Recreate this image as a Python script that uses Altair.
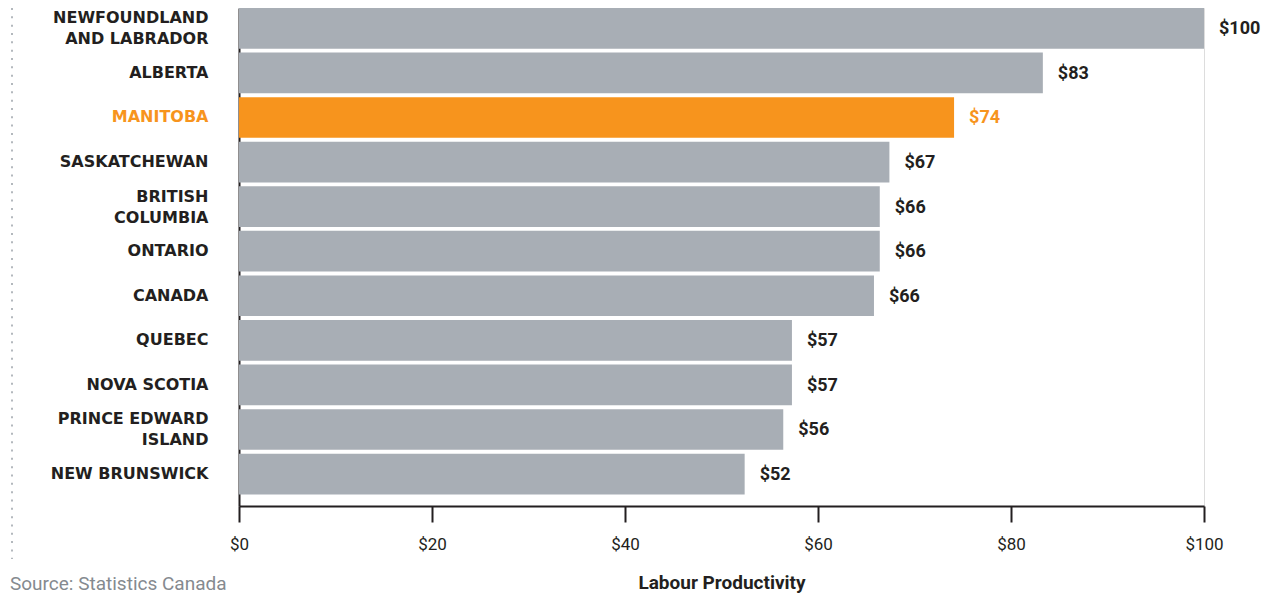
import altair as alt
import pandas as pd

regions = [
    "NEWFOUNDLAND\nAND LABRADOR",
    "ALBERTA",
    "MANITOBA",
    "SASKATCHEWAN",
    "BRITISH\nCOLUMBIA",
    "ONTARIO",
    "CANADA",
    "QUEBEC",
    "NOVA SCOTIA",
    "PRINCE EDWARD\nISLAND",
    "NEW BRUNSWICK",
]
productivity = [100.0, 83.3, 74.1, 67.4, 66.4, 66.4, 65.8, 57.3, 57.3, 56.4, 52.4]
x_ticks = [0, 20, 40, 60, 80, 100]
highlight = "MANITOBA"

DARK = "#231f20"
GREY = "#a8aeb5"
ORANGE = "#f7941d"

df = pd.DataFrame({"region": regions, "value": productivity})

W, H = 965, 498

y_enc = alt.Y(
    "region:N",
    sort=None,
    scale=alt.Scale(paddingInner=0.087, paddingOuter=0.13, align=0),
    axis=alt.Axis(
        title=None,
        ticks=False,
        domain=True,
        domainColor=DARK,
        domainWidth=2,
        labelPadding=31,
        labelFont="DejaVu Sans",
        labelFontWeight="bold",
        labelFontSize=16,
        labelLineHeight=21,
        labelLimit=300,
        labelExpr="split(datum.label, '\\n')",
        labelOffset={
            "condition": {"test": "indexof(datum.value, '\\n') >= 0", "value": -10},
            "value": 0,
        },
        labelColor={
            "condition": {"test": f"datum.value == '{highlight}'", "value": ORANGE},
            "value": DARK,
        },
    ),
)

x_enc = alt.X(
    "value:Q",
    scale=alt.Scale(domain=[0, 100], nice=False),
    axis=alt.Axis(
        values=x_ticks,
        grid=False,
        domain=True,
        domainColor=DARK,
        domainWidth=2,
        ticks=True,
        tickColor=DARK,
        tickWidth=2,
        tickSize=16,
        labelExpr="'$' + datum.value",
        labelFlush=False,
        labelFont="Roboto",
        labelFontSize=17,
        labelColor=DARK,
        labelPadding=14,
        title="Labour Productivity",
        titleFont="Roboto",
        titleFontWeight="bold",
        titleFontSize=19,
        titleColor=DARK,
        titlePadding=21,
    ),
)

is_hl = alt.datum.region == highlight

bars = alt.Chart(df).mark_bar().encode(
    x=x_enc,
    y=y_enc,
    color=alt.condition(is_hl, alt.value(ORANGE), alt.value(GREY)),
)

labels = alt.Chart(df).transform_calculate(
    label="'$' + format(datum.value, '.0f')"
).mark_text(
    align="left", baseline="middle", dx=15, dy=1,
    font="Roboto", fontWeight="bold", fontSize=18,
).encode(
    x="value:Q",
    y=alt.Y("region:N", sort=None),
    text="label:N",
    color=alt.condition(is_hl, alt.value(ORANGE), alt.value(DARK)),
)

dots = alt.Chart(alt.Data(values=[{}])).mark_rule(
    color="#b3b8bd", strokeWidth=2, strokeDash=[2, 6.33], strokeCap="butt"
).encode(
    x=alt.value(-227), y=alt.value(0), y2=alt.value(551)
)

source = alt.Chart(alt.Data(values=[{"t": "Source: Statistics Canada"}])).mark_text(
    align="left", baseline="alphabetic", font="Roboto", fontSize=19, color="#858a8f"
).encode(
    x=alt.value(-229), y=alt.value(582), text="t:N"
)

chart = alt.layer(bars, labels, dots, source).properties(
    width=W,
    height=H,
    autosize=alt.AutoSizeParams(type="none"),
    padding={"left": 231, "top": 0, "right": 60, "bottom": 88},
).configure_view(stroke=None).configure(background="white")

chart.save("out.html", embed_options={"renderer": "svg", "actions": False})
